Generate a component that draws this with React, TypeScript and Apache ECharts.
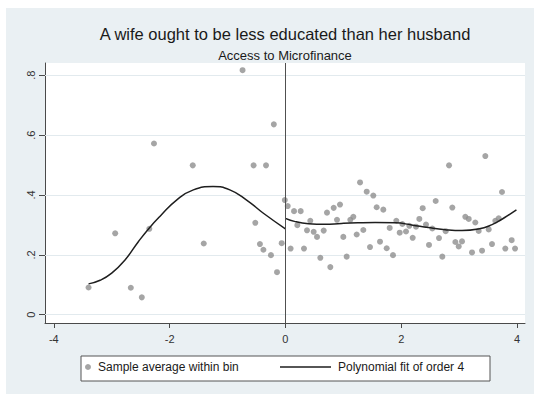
import React, { useEffect, useRef } from "react";
import * as echarts from "echarts";

const titleText = "A wife ought to be less educated than her husband";
const subtitleText = "Access to Microfinance";
const scatterName = "Sample average within bin";
const fitName = "Polynomial fit of order 4";

const xTicks = [-4, -2, 0, 2, 4];
const yTicks = [0, 0.2, 0.4, 0.6, 0.8];
const yTickLabels = ["0", ".2", ".4", ".6", ".8"];

// bin averages, left of cutoff
const binsLeft: [number, number][] = [
  [-3.40, 0.091], [-2.94, 0.272], [-2.67, 0.090], [-2.48, 0.058], [-2.35, 0.287],
  [-2.27, 0.572], [-1.60, 0.499], [-1.41, 0.238], [-0.74, 0.817], [-0.55, 0.499],
  [-0.52, 0.307], [-0.44, 0.236], [-0.38, 0.217], [-0.335, 0.499], [-0.25, 0.199],
  [-0.20, 0.636], [-0.145, 0.142], [-0.064, 0.239], [-0.01, 0.383],
];

// bin averages, right of cutoff
const binsRight: [number, number][] = [
  [0.04, 0.363], [0.09, 0.221], [0.149, 0.346], [0.206, 0.299], [0.264, 0.346],
  [0.321, 0.221], [0.373, 0.282], [0.43, 0.314], [0.488, 0.277], [0.546, 0.260],
  [0.603, 0.190], [0.661, 0.281], [0.718, 0.341], [0.776, 0.159], [0.834, 0.357],
  [0.891, 0.317], [0.943, 0.368], [1.0, 0.260], [1.058, 0.194], [1.121, 0.317],
  [1.173, 0.327], [1.231, 0.268], [1.289, 0.442], [1.346, 0.283], [1.404, 0.411],
  [1.461, 0.226], [1.518, 0.398], [1.576, 0.359], [1.634, 0.244], [1.691, 0.351],
  [1.749, 0.222], [1.801, 0.290], [1.858, 0.199], [1.915, 0.314], [1.974, 0.274],
  [2.02, 0.303], [2.083, 0.278], [2.14, 0.297], [2.198, 0.257], [2.256, 0.294],
  [2.313, 0.320], [2.371, 0.356], [2.428, 0.301], [2.48, 0.233], [2.537, 0.288],
  [2.596, 0.380], [2.653, 0.256], [2.71, 0.194], [2.768, 0.279], [2.826, 0.499],
  [2.883, 0.358], [2.935, 0.243], [2.993, 0.228], [3.05, 0.245], [3.107, 0.327],
  [3.166, 0.320], [3.223, 0.208], [3.28, 0.308], [3.338, 0.280], [3.396, 0.214],
  [3.453, 0.530], [3.511, 0.285], [3.568, 0.236], [3.625, 0.314], [3.684, 0.322],
  [3.741, 0.410], [3.798, 0.221], [3.908, 0.249], [3.966, 0.221],
];

// fitted polynomial
const fitLeft: [number, number][] = [
  [-3.40, 0.103], [-3.2, 0.115], [-3.0, 0.139], [-2.77, 0.183], [-2.54, 0.244],
  [-2.35, 0.290], [-2.16, 0.330], [-1.88, 0.383], [-1.59, 0.417], [-1.25, 0.428],
  [-0.96, 0.417], [-0.67, 0.383], [-0.38, 0.339], [0, 0.287],
];
const fitRight: [number, number][] = [
  [0, 0.322], [0.17, 0.311], [0.40, 0.304], [0.68, 0.302], [0.97, 0.305],
  [1.25, 0.307], [1.55, 0.308], [1.9, 0.307], [2.18, 0.300], [2.47, 0.291],
  [2.76, 0.284], [3.05, 0.281], [3.33, 0.286], [3.56, 0.300], [3.74, 0.319],
  [3.88, 0.336], [3.99, 0.350],
];

const cutoff = 0;

export default function App() {
  const ref = useRef<HTMLDivElement>(null);
  useEffect(() => {
    document.body.style.margin = "0";
    const chart = echarts.init(ref.current!, null, { renderer: "svg" });
    const font = "Liberation Sans, Arial, sans-serif";
    const grey = "#8e8e8e";
    const axisColor = "#4a4a4a";
    const bg = "#eaf0f3";
    const fitColor = "#1e1e1e";
    chart.setOption({
      animation: false,
      textStyle: { fontFamily: font },
      title: [
        {
          text: titleText, left: 280, top: 20, textAlign: "center",
          textStyle: { fontSize: 16.5, fontWeight: "normal", color: "#1a1a1a", fontFamily: font },
        },
        {
          text: subtitleText, left: 280, top: 44, textAlign: "center",
          textStyle: { fontSize: 13, fontWeight: "normal", color: "#1a1a1a", fontFamily: font },
        },
      ],
      graphic: [
        { type: "rect", z: -10, shape: { x: 6, y: 8, width: 528, height: 386 }, style: { fill: bg } },
        { type: "rect", z: 0, shape: { x: 81, y: 356, width: 409, height: 25 }, style: { fill: "#fff", stroke: "#555", lineWidth: 1 } },
      ],
      grid: {
        left: 45, right: 9, top: 63, bottom: 71,
        show: true, backgroundColor: "#fff", borderWidth: 0,
      },
      xAxis: {
        type: "value", min: -4.152, max: 4.138,
        axisLine: { show: true, onZero: false, lineStyle: { color: axisColor } },
        axisTick: { show: true, length: 5, customValues: xTicks, lineStyle: { color: axisColor } },
        axisLabel: { customValues: xTicks, margin: 10, fontSize: 11, color: "#333", formatter: (v: number) => String(v) },
        splitLine: { show: false },
      },
      yAxis: {
        type: "value", min: -0.0277, max: 0.841,
        axisLine: { show: true, onZero: false, lineStyle: { color: axisColor } },
        axisTick: { show: true, length: 6, customValues: yTicks, lineStyle: { color: axisColor } },
        axisLabel: {
          customValues: yTicks, rotate: 90, margin: 9, fontSize: 11, color: "#333",
          formatter: (v: number) => yTickLabels[yTicks.findIndex((t) => Math.abs(t - v) < 1e-6)] ?? "",
        },
        splitLine: { show: false },
      },
      legend: [
        {
          data: [{ name: scatterName, icon: "circle" }],
          left: 85, top: 361, itemWidth: 6, itemHeight: 6, padding: 0,
          textStyle: { fontSize: 12, color: "#1a1a1a", padding: [0, 0, 0, 2], fontFamily: font },
          selectedMode: false, z: 5,
        },
        {
          data: [{ name: fitName, icon: "rect", itemStyle: { color: fitColor } }],
          left: 280, top: 361, itemWidth: 51, itemHeight: 1.6, padding: 0,
          textStyle: { fontSize: 12, color: "#1a1a1a", padding: [0, 0, 0, 2], fontFamily: font },
          selectedMode: false, z: 5,
        },
      ],
      series: [
        {
          type: "scatter", name: scatterName, data: binsLeft, symbolSize: 6,
          itemStyle: { color: grey }, z: 3,
          markLine: {
            silent: true, symbol: "none", label: { show: false }, z: 1,
            lineStyle: { color: "#e2eaee", width: 1, type: "solid" },
            data: yTicks.map((t) => ({ yAxis: t })),
          },
        },
        {
          type: "scatter", name: scatterName, data: binsRight, symbolSize: 6,
          itemStyle: { color: grey }, z: 3,
        },
        {
          type: "line", name: fitName, data: fitLeft, smooth: true, symbol: "none",
          lineStyle: { color: fitColor, width: 1.5 }, itemStyle: { color: fitColor }, z: 4,
        },
        {
          type: "line", name: fitName, data: fitRight, smooth: true, symbol: "none",
          lineStyle: { color: fitColor, width: 1.5 }, itemStyle: { color: fitColor }, z: 4,
          markLine: {
            silent: true, symbol: "none", label: { show: false },
            lineStyle: { color: "#505050", width: 1, type: "solid" },
            data: [{ xAxis: cutoff }],
          },
        },
      ],
    });
    return () => chart.dispose();
  }, []);
  return <div ref={ref} style={{ width: 534, height: 394 }} />;
}
